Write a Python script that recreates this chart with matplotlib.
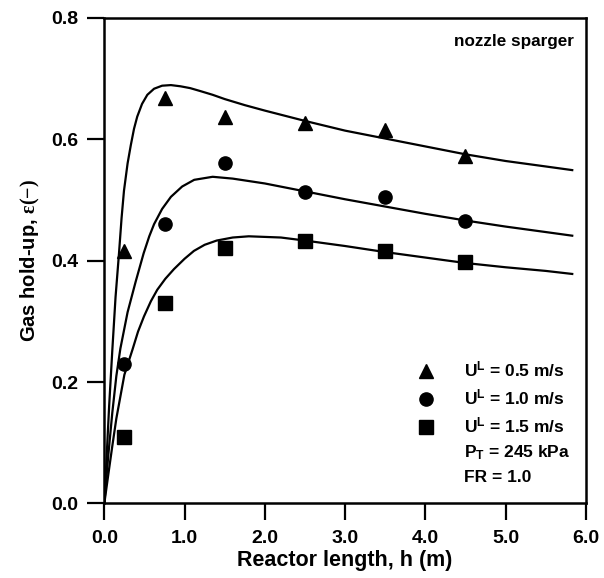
import numpy as np
import matplotlib.pyplot as plt
from matplotlib.lines import Line2D

plt.rcParams['font.family'] = ['Liberation Sans', 'DejaVu Sans']
plt.rcParams['font.weight'] = 'bold'
plt.rcParams['axes.labelweight'] = 'bold'
plt.rcParams['mathtext.fontset'] = 'custom'
plt.rcParams['mathtext.bf'] = 'Liberation Sans:bold'
plt.rcParams['mathtext.rm'] = 'Liberation Serif'
plt.rcParams['mathtext.default'] = 'bf'

# measured hold-up
h_exp = [0.25, 0.75, 1.5, 2.5, 3.5, 4.5]
eps_05 = [0.415, 0.667, 0.637, 0.627, 0.615, 0.572]
eps_10 = [0.230, 0.460, 0.560, 0.513, 0.505, 0.465]
eps_15 = [0.110, 0.330, 0.420, 0.433, 0.415, 0.397]

# model curves
h_05 = [0, 0.03, 0.06, 0.1, 0.14, 0.183, 0.215, 0.245, 0.29, 0.33, 0.37, 0.41, 0.47, 0.536,
        0.62, 0.72, 0.83, 0.95, 1.07, 1.2, 1.35, 1.5, 1.75, 2.0, 2.5, 3.0, 3.5, 4.0, 4.5,
        5.0, 5.5, 5.83]
m_05 = [0, 0.08, 0.16, 0.253, 0.34, 0.412, 0.47, 0.515, 0.56, 0.59, 0.617, 0.637, 0.658, 0.673,
        0.683, 0.688, 0.689, 0.687, 0.684, 0.679, 0.673, 0.666, 0.656, 0.647, 0.630, 0.614,
        0.601, 0.588, 0.575, 0.564, 0.555, 0.549]

h_10 = [0, 0.05, 0.1, 0.15, 0.2, 0.29, 0.39, 0.49, 0.56, 0.62, 0.72, 0.83, 0.97, 1.12, 1.35,
        1.6, 2.0, 2.5, 3.0, 3.5, 4.0, 4.5, 5.0, 5.5, 5.83]
m_10 = [0, 0.08, 0.15, 0.21, 0.255, 0.315, 0.365, 0.412, 0.44, 0.46, 0.485, 0.505, 0.522, 0.533,
        0.538, 0.535, 0.527, 0.514, 0.501, 0.489, 0.477, 0.466, 0.456, 0.447, 0.441]

h_15 = [0, 0.05, 0.1, 0.15, 0.25, 0.35, 0.42, 0.494, 0.58, 0.66, 0.76, 0.868, 1.0, 1.117,
        1.25, 1.4, 1.6, 1.8, 2.2, 2.5, 3.0, 3.5, 4.0, 4.5, 5.0, 5.5, 5.83]
m_15 = [0, 0.048, 0.095, 0.14, 0.212, 0.253, 0.283, 0.308, 0.333, 0.352, 0.37, 0.386, 0.403, 0.416,
        0.426, 0.433, 0.438, 0.44, 0.438, 0.433, 0.424, 0.414, 0.405, 0.396, 0.389, 0.383, 0.378]

xticks = [0, 1, 2, 3, 4, 5, 6]
yticks = [0.0, 0.2, 0.4, 0.6, 0.8]

fig = plt.figure(figsize=(6.04, 5.78), dpi=100)
ax = fig.add_axes([0.1727, 0.1289, 0.7973, 0.8405])

ax.plot(h_05, m_05, 'k-', lw=1.6)
ax.plot(h_10, m_10, 'k-', lw=1.6)
ax.plot(h_15, m_15, 'k-', lw=1.6)
ax.plot(h_exp, eps_05, 'k^', ms=10, ls='none')
ax.plot(h_exp, eps_10, 'ko', ms=9.5, ls='none')
ax.plot(h_exp, eps_15, 'ks', ms=9.5, ls='none')

ax.set_xlim(0, 6)
ax.set_ylim(0, 0.8)
ax.set_xticks(xticks)
ax.set_xticklabels([f'{v:.1f}' for v in xticks])
ax.set_yticks(yticks)
ax.set_yticklabels([f'{v:.1f}' for v in yticks])
ax.tick_params(direction='out', length=12, width=1.6, labelsize=14, pad=7)
for s in ax.spines.values():
    s.set_linewidth(1.8)

ax.set_xlabel('Reactor length, h (m)', fontsize=15.5, labelpad=2)
ax.set_ylabel(r'Gas hold-up, $\mathrm{ε(−)}$', fontsize=14.5, labelpad=6)

ax.text(0.975, 0.95, 'nozzle sparger', transform=ax.transAxes, ha='right', va='center',
        fontsize=12.3)

blank = Line2D([], [], ls='none', marker='')
handles = [Line2D([], [], color='k', marker='^', ms=10, ls='none'),
           Line2D([], [], color='k', marker='o', ms=9.5, ls='none'),
           Line2D([], [], color='k', marker='s', ms=9.5, ls='none'),
           blank, blank]
labels = [r'$U^L$ = 0.5 m/s', r'$U^L$ = 1.0 m/s', r'$U^L$ = 1.5 m/s',
          r'$P_T$ = 245 kPa', 'FR = 1.0']
ax.legend(handles, labels, loc='lower right', bbox_to_anchor=(1.0, 0.005), frameon=False,
          fontsize=12.5, labelspacing=0.46, handletextpad=1.7, handlelength=1.0)

fig.savefig('out.png', dpi=100)
